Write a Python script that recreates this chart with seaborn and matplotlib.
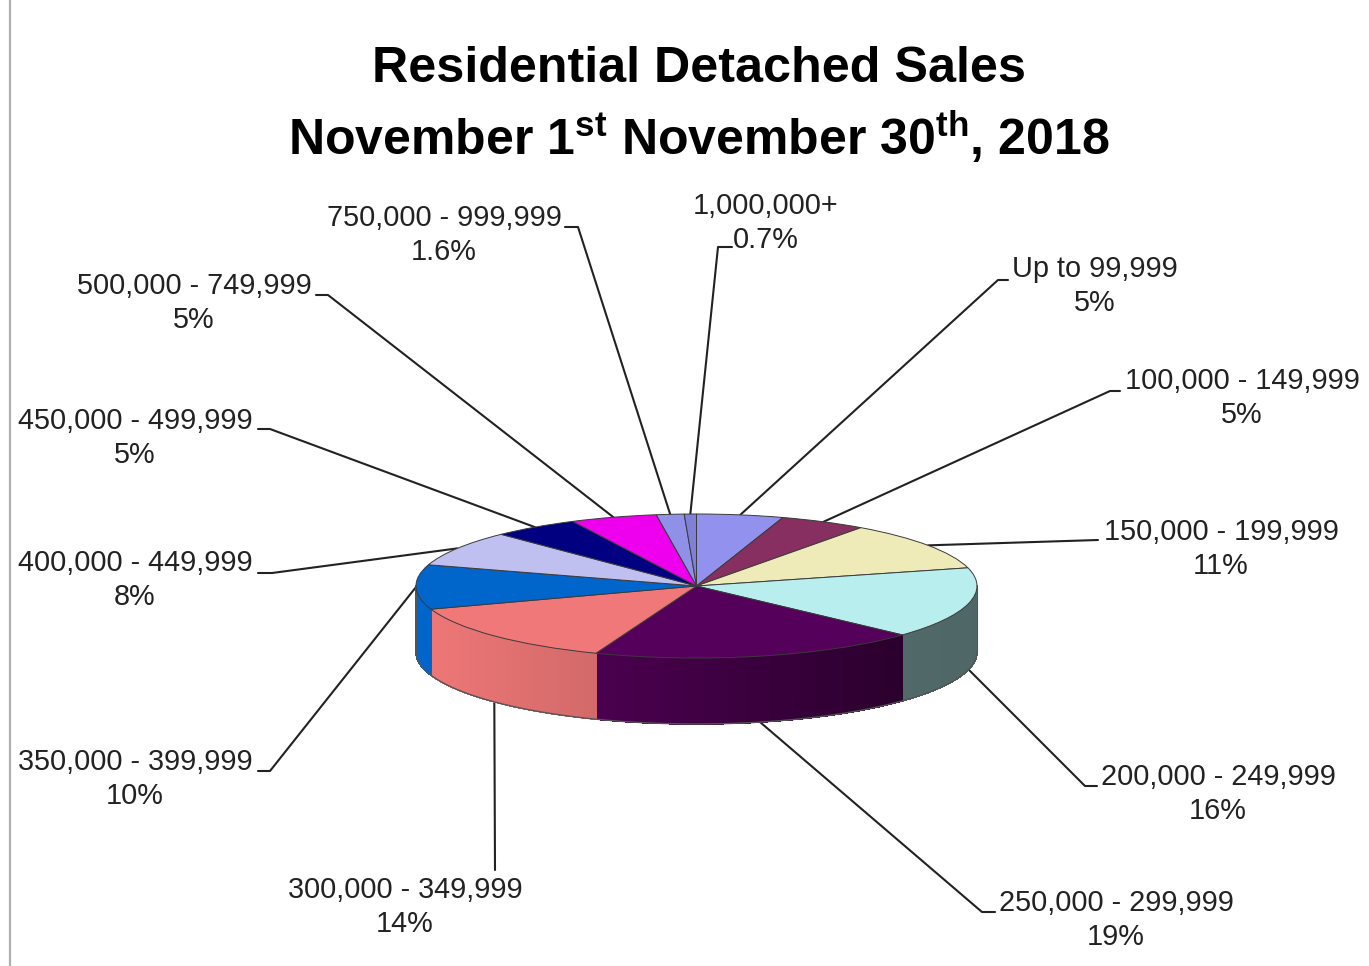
import numpy as np
import matplotlib
matplotlib.use('Agg')
import matplotlib.pyplot as plt
from matplotlib.colors import to_rgb
import seaborn as sns

# 가격대별 판매 비중
price_ranges = ['Up to 99,999', '100,000 - 149,999', '150,000 - 199,999', '200,000 - 249,999',
                '250,000 - 299,999', '300,000 - 349,999', '350,000 - 399,999', '400,000 - 449,999',
                '450,000 - 499,999', '500,000 - 749,999', '750,000 - 999,999', '1,000,000+']
shares = [5, 5, 11, 16, 19, 14, 10, 8, 5, 5, 1.6, 0.7]
share_labels = ['5%', '5%', '11%', '16%', '19%', '14%', '10%', '8%', '5%', '5%', '1.6%', '0.7%']
slice_colors = ['#9292EE', '#872F60', '#EEEBB8', '#B9EEEE', '#55005A', '#F07878',
                '#0066CC', '#BFBFF0', '#000080', '#EE00EE', '#9090E8', '#8080D8']

# 레이아웃 (pixels in the 1369x966 picture)
label_pos = [(1095, 286), (1242, 398), (1221, 549), (1218, 794), (1116, 920), (405, 907),
             (135, 779), (135, 580), (135, 438), (194, 303), (444, 235), (766, 223)]
elbow_pos = [[(1008, 280), (998, 280)], [(1120, 391), (1110, 391)], [(1098, 540)],
             [(1097, 786), (1085, 786)], [(995, 912), (982, 912)], [(495, 870)],
             [(258, 771), (270, 771)], [(258, 573), (272, 573)], [(258, 429), (270, 429)],
             [(316, 295), (328, 295)], [(565, 227), (578, 227)], [(732, 247), (718, 247)]]

cx, cy, rx, ry, depth = 696.5, 586, 280.5, 72, 66


def to_x(px):
    return (px - cx) / rx


def to_y(py):
    return (cy - py) / ry


sns.set_theme(style='white', font='Liberation Sans')
plt.rcParams['mathtext.fontset'] = 'custom'
plt.rcParams['mathtext.rm'] = 'Liberation Sans:bold'

fig = plt.figure(figsize=(13.69, 9.66), dpi=100, facecolor='white')
ax = fig.add_axes([0, 0, 1, 1])

colors = sns.color_palette(slice_colors)
ax.pie(shares, colors=colors, startangle=90, counterclock=False, radius=1,
       wedgeprops={'edgecolor': '#3a3a3a', 'linewidth': 0.7, 'zorder': 5})
ax.set_aspect('auto')
ax.set_xlim(to_x(0), to_x(1369))
ax.set_ylim(to_y(966), to_y(0))
ax.axis('off')

# 옆면 - 각도별로 잘라서 음영 표현
drop = depth / ry
fractions = np.cumsum([0] + shares) / sum(shares) * 360
for i, color in enumerate(colors):
    start, end = max(fractions[i], 90), min(fractions[i + 1], 270)
    if start >= end:
        continue
    edges = np.radians(np.linspace(start, end, max(int(end - start), 1) + 1))
    for a, b in zip(edges[:-1], edges[1:]):
        xs = np.array([np.sin(a), np.sin(b), np.sin(b), np.sin(a)])
        ys = np.array([np.cos(a), np.cos(b), np.cos(b) - drop, np.cos(a) - drop])
        shade = np.interp((np.sin(a) + np.sin(b)) / 2,
                          [-1, -0.37, 0.72, 0.74, 1], [1.0, 0.88, 0.5, 0.44, 0.43])
        c = tuple(np.array(to_rgb(color)) * shade)
        ax.fill(xs, ys, facecolor=c, edgecolor=c, linewidth=0.5, antialiased=False, zorder=2)

# 아래쪽 윤곽선
outline = np.radians(np.linspace(90, 270, 181))
ax.plot(np.sin(outline), np.cos(outline) - drop, color='#555555', lw=1.0, zorder=3)
ax.plot([1, 1], [0, -drop], color='#555555', lw=0.8, zorder=3)
ax.plot([-1, -1], [0, -drop], color='#555555', lw=0.8, zorder=3)

# 라벨과 지시선
for i, name in enumerate(price_ranges):
    mid = np.radians((fractions[i] + fractions[i + 1]) / 2)
    start_x, start_y = np.sin(mid), np.cos(mid)
    if start_y < -0.05:
        start_y -= drop
    xs = [to_x(p[0]) for p in elbow_pos[i]] + [start_x]
    ys = [to_y(p[1]) for p in elbow_pos[i]] + [start_y]
    ax.plot(xs, ys, color='#222222', lw=1.5, zorder=1)
    ax.text(to_x(label_pos[i][0]), to_y(label_pos[i][1]), name + '\n' + share_labels[i],
            ha='center', va='center', fontsize=20.8, linespacing=1.25, color='#222222')

# 제목
ax.text(to_x(699), to_y(69), 'Residential Detached Sales', ha='center', va='center',
        fontsize=36.2, fontweight='bold', color='black')
ax.text(to_x(699), to_y(137), r'November 1$^{\mathrm{st}}$ November 30$^{\mathrm{th}}$, 2018',
        ha='center', va='center', fontsize=36, fontweight='bold', color='black')

# 왼쪽 회색 세로선
ax.plot([to_x(10), to_x(10)], [to_y(0), to_y(966)], color='#b0b0b0', lw=1.6)

fig.savefig('out.png', dpi=100)
